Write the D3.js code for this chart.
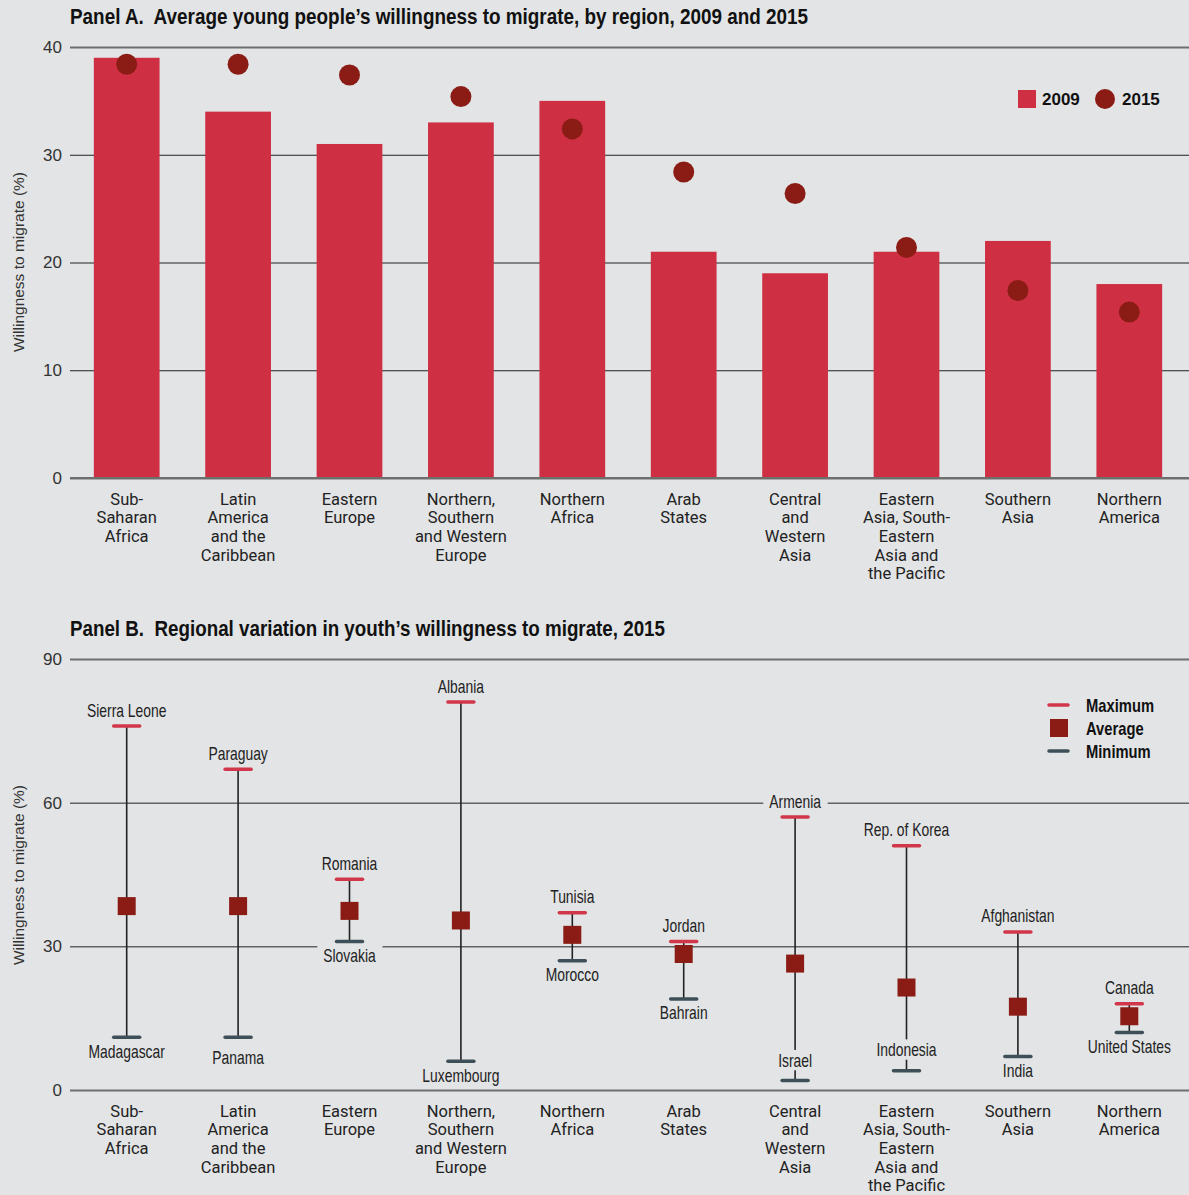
<!DOCTYPE html>
<html>
<head>
<meta charset="utf-8">
<script src="https://cdn.jsdelivr.net/npm/d3@7/dist/d3.min.js"></script>
<style>
  body { margin: 0; background: #e2e4e5; }
  svg { display: block; }
</style>
</head>
<body>
<svg id="chart" width="1189" height="1195"></svg>
<script>
// categories (line breaks as in the original)
var regions = [
  "Sub-|Saharan|Africa",
  "Latin|America|and the|Caribbean",
  "Eastern|Europe",
  "Northern,|Southern|and Western|Europe",
  "Northern|Africa",
  "Arab|States",
  "Central|and|Western|Asia",
  "Eastern|Asia, South-|Eastern|Asia and|the Pacific",
  "Southern|Asia",
  "Northern|America"
];

// Panel A
var will2009 = [39, 34, 31, 33, 35, 21, 19, 21, 22, 18];
var will2015 = [38.4, 38.4, 37.4, 35.4, 32.4, 28.4, 26.4, 21.4, 17.4, 15.4];

// Panel B
var maxCountry = ["Sierra Leone", "Paraguay", "Romania", "Albania", "Tunisia", "Jordan", "Armenia", "Rep. of Korea", "Afghanistan", "Canada"];
var maxValue = [76, 67, 44, 81, 37, 31, 57, 51, 33, 18];
var minCountry = ["Madagascar", "Panama", "Slovakia", "Luxembourg", "Morocco", "Bahrain", "Israel", "Indonesia", "India", "United States"];
var minValue = [11, 11, 31, 6, 27, 19, 2, 4, 7, 12];

var ticksA = [0, 10, 20, 30, 40];
var ticksB = [0, 30, 60, 90];

var bg = "#e2e4e5",
    red = "#cf2f42",
    darkRed = "#8b1c15",
    slate = "#3e4f58";

var svg = d3.select("#chart");
var left = 70, right = 1189;

var x = d3.scaleBand()
    .domain(regions)
    .range([71, 1185])
    .paddingInner(0.41)
    .paddingOuter(0.205);

// label offsets for min labels (px, layout only)
var minLabelShift = { "Israel": -20, "Indonesia": -21, "Panama": 20 };

function drawGrid(g, y, ticks) {
  var axis = d3.axisLeft(y)
      .tickValues(ticks)
      .tickSize(-(right - left))
      .tickPadding(8);
  var a = g.append("g")
      .attr("transform", "translate(" + left + ",0)")
      .call(axis);
  a.select(".domain").remove();
  var lo = d3.min(ticks), hi = d3.max(ticks);
  a.selectAll(".tick line")
      .attr("stroke", function (d) { return (d === lo || d === hi) ? "#6e6e6e" : "#222"; })
      .attr("stroke-width", function (d) { return (d === lo || d === hi) ? 2.2 : 1; });
  a.selectAll(".tick text")
      .attr("fill", "#333")
      .style("font-family", "'Liberation Sans', Arial, sans-serif")
      .style("font-size", "17px");
  return a;
}

function drawCategories(g, yTop) {
  var lab = g.append("g").selectAll("text")
      .data(regions)
      .enter().append("text")
      .attr("text-anchor", "middle")
      .attr("fill", "#222")
      .style("font-family", "Roboto, 'Liberation Sans', sans-serif")
      .style("font-size", "16.5px");
  lab.each(function (d) {
    var t = d3.select(this);
    d.split("|").forEach(function (line, i) {
      t.append("tspan")
        .attr("x", x(d) + x.bandwidth() / 2)
        .attr("y", yTop + i * 18.6)
        .attr("dy", "0.35em")
        .text(line);
    });
  });
}

function yTitle(g, cy) {
  g.append("text")
    .attr("transform", "translate(19," + cy + ") rotate(-90)")
    .attr("text-anchor", "middle")
    .attr("dy", "0.35em")
    .attr("fill", "#333")
    .style("font-family", "'Liberation Sans', Arial, sans-serif")
    .style("font-size", "15.5px")
    .text("Willingness to migrate (%)");
}

function title(g, ty, txt, w) {
  g.append("text")
    .attr("x", 70)
    .attr("y", ty)
    .attr("fill", "#111")
    .attr("textLength", w)
    .attr("lengthAdjust", "spacingAndGlyphs")
    .style("font-family", "'Liberation Sans', Arial, sans-serif")
    .style("font-weight", "bold")
    .style("font-size", "22px")
    .style("white-space", "pre")
    .text(txt);
}

// ---------- Panel A ----------
var gA = svg.append("g");
var yA = d3.scaleLinear().domain([0, 40]).range([478, 47]);

title(gA, 24, "Panel A.  Average young people\u2019s willingness to migrate, by region, 2009 and 2015", 738);
drawGrid(gA, yA, ticksA);
yTitle(gA, 262);

gA.append("g").selectAll("rect")
    .data(regions)
    .enter().append("rect")
    .attr("x", function (d) { return x(d); })
    .attr("width", x.bandwidth())
    .attr("y", function (d, i) { return yA(will2009[i]); })
    .attr("height", function (d, i) { return yA(0) - yA(will2009[i]); })
    .attr("fill", red);

gA.append("g").selectAll("circle")
    .data(regions)
    .enter().append("circle")
    .attr("cx", function (d) { return x(d) + x.bandwidth() / 2; })
    .attr("cy", function (d, i) { return yA(will2015[i]); })
    .attr("r", 10.5)
    .attr("fill", darkRed);

// redraw baseline over bars
gA.append("line")
    .attr("x1", left).attr("x2", right)
    .attr("y1", yA(0)).attr("y2", yA(0))
    .attr("stroke", "#6e6e6e").attr("stroke-width", 2.2);

drawCategories(gA, 499);

// legend A
var legA = gA.append("g").style("font-family", "'Liberation Sans', Arial, sans-serif")
    .style("font-weight", "bold").style("font-size", "17px");
legA.append("rect").attr("x", 1018).attr("y", 90).attr("width", 18).attr("height", 18).attr("fill", red);
legA.append("text").attr("x", 1042).attr("y", 99).attr("dy", "0.35em").attr("fill", "#111").text("2009");
legA.append("circle").attr("cx", 1105).attr("cy", 99).attr("r", 10).attr("fill", darkRed);
legA.append("text").attr("x", 1122).attr("y", 99).attr("dy", "0.35em").attr("fill", "#111").text("2015");

// ---------- Panel B ----------
var gB = svg.append("g");
var yB = d3.scaleLinear().domain([0, 90]).range([1090, 659]);

title(gB, 636, "Panel B.  Regional variation in youth\u2019s willingness to migrate, 2015", 595);
drawGrid(gB, yB, ticksB);
yTitle(gB, 875);

var cx = function (d) { return x(d) + x.bandwidth() / 2; };

var rows = gB.append("g").selectAll("g")
    .data(regions)
    .enter().append("g");

rows.append("line")
    .attr("x1", cx).attr("x2", cx)
    .attr("y1", function (d, i) { return yB(maxValue[i]); })
    .attr("y2", function (d, i) { return yB(minValue[i]); })
    .attr("stroke", "#222").attr("stroke-width", 1.6);

rows.append("line")
    .attr("x1", function (d) { return cx(d) - 13; })
    .attr("x2", function (d) { return cx(d) + 13; })
    .attr("y1", function (d, i) { return yB(maxValue[i]); })
    .attr("y2", function (d, i) { return yB(maxValue[i]); })
    .attr("stroke", "#d2364a").attr("stroke-width", 3.5).attr("stroke-linecap", "round");

rows.append("line")
    .attr("x1", function (d) { return cx(d) - 13; })
    .attr("x2", function (d) { return cx(d) + 13; })
    .attr("y1", function (d, i) { return yB(minValue[i]); })
    .attr("y2", function (d, i) { return yB(minValue[i]); })
    .attr("stroke", slate).attr("stroke-width", 3.5).attr("stroke-linecap", "round");

rows.append("rect")
    .attr("x", function (d) { return cx(d) - 9; })
    .attr("y", function (d, i) { return yB(will2015[i]) - 9; })
    .attr("width", 18).attr("height", 18)
    .attr("fill", darkRed);

function countryLabel(g, tx, ty, txt) {
  var lg = g.append("g").attr("transform", "translate(" + tx + "," + ty + ") scale(0.75,1)");
  var box = lg.append("rect").attr("fill", bg);
  var t = lg.append("text")
      .attr("x", 0).attr("y", 0).attr("dy", "0.35em")
      .attr("text-anchor", "middle")
      .attr("fill", "#222")
      .style("font-family", "'Liberation Sans', Arial, sans-serif")
      .style("font-size", "18.5px")
      .text(txt);
  var b = t.node().getBBox();
  box.attr("x", b.x - 8).attr("y", b.y).attr("width", b.width + 16).attr("height", b.height);
}

rows.each(function (d, i) {
  var g = d3.select(this);
  countryLabel(g, cx(d), yB(maxValue[i]) - 16, maxCountry[i]);
  var sh = minLabelShift[minCountry[i]] !== undefined ? minLabelShift[minCountry[i]] : 14;
  countryLabel(g, cx(d), yB(minValue[i]) + sh, minCountry[i]);
});

drawCategories(gB, 1111);

// legend B
var legB = gB.append("g");
legB.append("line").attr("x1", 1049).attr("x2", 1068).attr("y1", 705).attr("y2", 705)
    .attr("stroke", "#d2364a").attr("stroke-width", 3.5).attr("stroke-linecap", "round");
legB.append("rect").attr("x", 1050).attr("y", 719).attr("width", 18).attr("height", 18).attr("fill", darkRed);
legB.append("line").attr("x1", 1049).attr("x2", 1068).attr("y1", 751).attr("y2", 751)
    .attr("stroke", slate).attr("stroke-width", 3.5).attr("stroke-linecap", "round");
var legLabels = ["Maximum", "Average", "Minimum"];
legB.selectAll("g.lab")
    .data(legLabels)
    .enter().append("g")
    .attr("class", "lab")
    .attr("transform", function (d, i) { return "translate(1086," + (706 + i * 23) + ") scale(0.82,1)"; })
    .append("text")
    .attr("dy", "0.35em")
    .attr("fill", "#111")
    .style("font-family", "'Liberation Sans', Arial, sans-serif")
    .style("font-weight", "bold")
    .style("font-size", "18px")
    .text(function (d) { return d; });
</script>
</body>
</html>
